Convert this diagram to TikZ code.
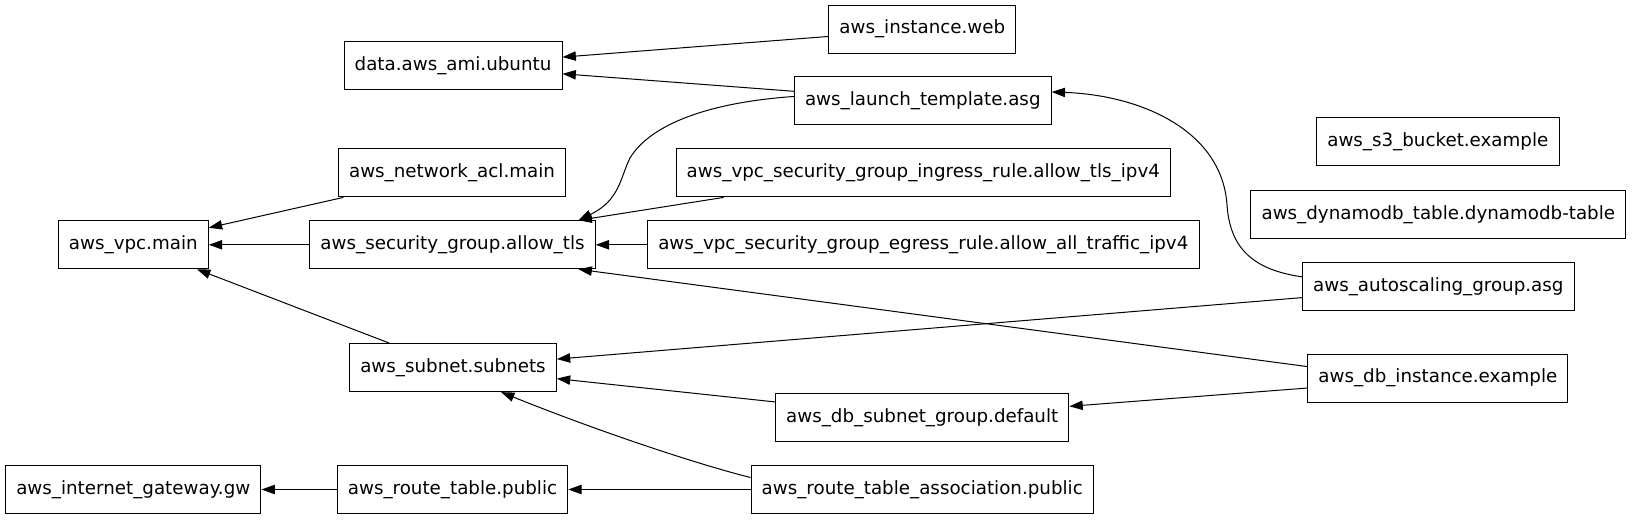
\documentclass[tikz,border=0pt]{standalone}
\usepackage{fontspec}
\usepackage{tikz}
\usetikzlibrary{arrows.meta,positioning,calc}
\newfontfamily\tffont{DejaVu Sans}

\begin{document}
\begin{tikzpicture}[x=0.75pt, y=-0.75pt,
    res/.style={draw, rectangle, line width=0.75pt, minimum height=36pt,
        inner xsep=8pt, font=\tffont\fontsize{13.7}{16}\selectfont},
    dep/.style={-{Triangle[length=10pt,width=7pt]}, line width=0.75pt}]
    \useasboundingbox (0,0) rectangle (1633,520);

    % Column 1
    \node[res] (vpc) at (133.3,244.8) {aws\_vpc.main};
    \node[res] (igw) at (133.3,489.5) {aws\_internet\_gateway.gw};

    % Column 2
    \node[res] (ami) at (453,65.6) {data.aws\_ami.ubuntu};
    \node[res] (acl) at (452,172.9) {aws\_network\_acl.main};
    \node[res] (sg) at (452.5,244.8) {aws\_security\_group.allow\_tls};
    \node[res] (subnets) at (453,367.6) {aws\_subnet.subnets};
    \node[res] (rt) at (452.5,489.5) {aws\_route\_table.public};

    % Column 3
    \node[res] (web) at (922.3,29.2) {aws\_instance.web};
    \node[res] (lt) at (922.8,101) {aws\_launch\_template.asg};
    \node[res] (ingress) at (923.3,172.9) {aws\_vpc\_security\_group\_ingress\_rule.allow\_tls\_ipv4};
    \node[res] (egress) at (923.3,244.8) {aws\_vpc\_security\_group\_egress\_rule.allow\_all\_traffic\_ipv4};
    \node[res] (dbsg) at (922.2,417.6) {aws\_db\_subnet\_group.default};
    \node[res] (rta) at (922.2,489.5) {aws\_route\_table\_association.public};

    % Column 4
    \node[res] (s3) at (1437.8,141.6) {aws\_s3\_bucket.example};
    \node[res] (dynamo) at (1438.3,214.5) {aws\_dynamodb\_table.dynamodb-table};
    \node[res] (asg) at (1438.3,286.4) {aws\_autoscaling\_group.asg};
    \node[res] (dbi) at (1437.8,378) {aws\_db\_instance.example};

    % Dependencies
    \draw[dep] (web) -- (ami);
    \draw[dep] (lt) -- (ami);
    \draw[dep] (lt.178) .. controls (700,103) and (648,128) .. (630,158)
        .. controls (620,178) and (620,200) .. (sg.11);
    \draw[dep] (ingress.-173) -- (sg.11);
    \draw[dep] (egress) -- (sg);
    \draw[dep] (sg) -- (vpc);
    \draw[dep] (acl) -- (vpc);
    \draw[dep] (subnets) -- (vpc);
    \draw[dep] (asg) -- (subnets);
    \draw[dep] (asg.176) .. controls (1255,270) and (1230,250) .. (1227,205)
        .. controls (1222,130) and (1140,95) .. (lt.4);
    \draw[dep] (dbi.175) -- (sg.-11);
    \draw[dep] (dbi) -- (dbsg);
    \draw[dep] (dbsg) -- (subnets);
    \draw[dep] (rta.176) .. controls (700,465) and (600,432) .. (subnets.-27);
    \draw[dep] (rta) -- (rt);
    \draw[dep] (rt) -- (igw);
\end{tikzpicture}
\end{document}
